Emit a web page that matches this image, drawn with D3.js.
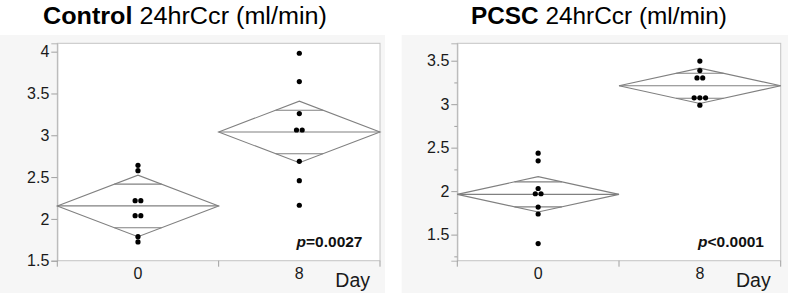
<!DOCTYPE html>
<html><head><meta charset="utf-8">
<script src="https://cdn.jsdelivr.net/npm/d3@7"></script>
<style>
html,body{margin:0;padding:0;background:#fff;}
svg{display:block;font-family:"Liberation Sans",Arial,Helvetica,sans-serif;}
</style></head>
<body>
<svg id="chart" width="788" height="304"></svg>
<script>
// ---------- data ----------
const categories = ["0", "8"];
const controlDay0 = [2.641, 2.577, 2.218, 2.218, 2.038, 2.038, 1.787, 1.724];
const controlDay8 = [3.981, 3.642, 3.259, 3.063, 3.063, 2.689, 2.457, 2.163];
const pcscDay0 = [2.436, 2.348, 2.030, 1.970, 1.970, 1.817, 1.737, 1.397];
const pcscDay8 = [3.496, 3.386, 3.302, 3.302, 3.073, 3.073, 3.073, 2.989];
const controlTicks = [1.5, 2, 2.5, 3, 3.5, 4];
const pcscTicks = [1.5, 2, 2.5, 3, 3.5];
const pcscMinorTicks = [1.25, 1.75, 2.25, 2.75, 3.25];
const titleBold = ["Control", "PCSC"];
const titleRest = " 24hrCcr (ml/min)";
const pValueLabels = ["=0.0027", "<0.0001"];
const xTitle = "Day";
const tCrit = 2.145; // t quantile 0.975, df = 14

const svg = d3.select("#chart");

const panels = [
  {bold: titleBold[0], groups: [controlDay0, controlDay8], ticks: controlTicks, minor: [],
   domain: [1.5, 4.1], p: pValueLabels[0],
   bg: [0, 35, 385, 293], plot: [57.3, 380, 43.3, 260.7],
   titleX: 43, titleW: 284, pRight: 362.5},
  {bold: titleBold[1], groups: [pcscDay0, pcscDay8], ticks: pcscTicks, minor: pcscMinorTicks,
   domain: [1.2, 3.7], p: pValueLabels[1],
   bg: [401.7, 35, 788, 293], plot: [457.3, 780.7, 43.3, 260.7],
   titleX: 471, titleW: 256, pRight: 764}
];

panels.forEach(P => {
  const [l, r, t, b] = P.plot;
  const g = svg.append("g");
  g.append("rect").attr("x", P.bg[0]).attr("y", P.bg[1])
    .attr("width", P.bg[2] - P.bg[0]).attr("height", P.bg[3] - P.bg[1])
    .attr("fill", "#f6f6f6");
  g.append("rect").attr("x", l).attr("y", t).attr("width", r - l).attr("height", b - t)
    .attr("fill", "#fff").attr("stroke", "#c4c4c4").attr("stroke-width", 1);

  const y = d3.scaleLinear().domain(P.domain).range([b, t]);
  const x = d3.scaleBand().domain(categories).range([l, r]).padding(0);

  const yAxis = d3.axisLeft(y).tickValues(P.ticks).tickSize(6).tickPadding(2)
    .tickFormat(d3.format("~g"));
  const ya = g.append("g").attr("transform", `translate(${l},0)`).call(yAxis)
    .attr("font-size", 16).attr("font-family", "'Liberation Sans',Arial,sans-serif");
  ya.select(".domain").attr("stroke", "#b4b4b4");
  ya.selectAll(".tick line").attr("stroke", "#a0a0a0");
  ya.selectAll(".tick text").attr("font-size", 16).attr("fill", "#1a1a1a");
  if (P.minor.length) {
    const ym = d3.axisLeft(y).tickValues(P.minor).tickSize(3).tickFormat("");
    const yma = g.append("g").attr("transform", `translate(${l},0)`).call(ym);
    yma.select(".domain").remove();
    yma.selectAll(".tick line").attr("stroke", "#a0a0a0");
  }

  const bounds = [l].concat(categories.map(c => x(c) + x.bandwidth()));
  g.selectAll(".sep").data(bounds).join("line")
    .attr("x1", d => d).attr("x2", d => d).attr("y1", b).attr("y2", b + 6)
    .attr("stroke", "#a0a0a0");
  g.selectAll(".xl").data(categories).join("text")
    .attr("x", d => x(d) + x.bandwidth() / 2).attr("y", b + 18.5)
    .attr("text-anchor", "middle").attr("font-size", 16).attr("fill", "#1a1a1a")
    .text(d => d);
  g.append("text").attr("x", r - 10).attr("y", 286.5).attr("text-anchor", "end")
    .attr("font-size", 19.5).attr("fill", "#1a1a1a").text(xTitle);

  const means = P.groups.map(v => d3.mean(v));
  let ss = 0, n = 0;
  P.groups.forEach((v, i) => { v.forEach(d => { ss += (d - means[i]) ** 2; }); n += v.length; });
  const sd = Math.sqrt(ss / (n - P.groups.length));

  P.groups.forEach((vals, i) => {
    const cat = categories[i];
    const x0 = x(cat), x1 = x0 + x.bandwidth(), xc = (x0 + x1) / 2;
    const m = means[i];
    const ci = tCrit * sd / Math.sqrt(vals.length);
    const dg = g.append("g");
    const pts = [[x0, y(m)], [xc, y(m + ci)], [x1, y(m)], [xc, y(m - ci)]];
    dg.append("path").attr("d", d3.line()(pts) + "Z")
      .attr("fill", "none").attr("stroke", "#808080").attr("stroke-width", 1.1);
    dg.append("line").attr("x1", x0).attr("x2", x1).attr("y1", y(m)).attr("y2", y(m))
      .attr("stroke", "#808080").attr("stroke-width", 1.1);
    const ov = ci / Math.SQRT2;
    const hw = (x.bandwidth() / 2) * (1 - 1 / Math.SQRT2);
    [m + ov, m - ov].forEach(v => {
      dg.append("line").attr("x1", xc - hw).attr("x2", xc + hw)
        .attr("y1", y(v)).attr("y2", y(v)).attr("stroke", "#808080").attr("stroke-width", 1.1);
    });
    const counts = d3.rollup(vals, v => v.length, d => d);
    const seen = new Map();
    const pdata = vals.map(v => {
      const k = seen.get(v) || 0; seen.set(v, k + 1);
      const c = counts.get(v);
      return {v, off: (k - (c - 1) / 2) * 5.7};
    });
    dg.selectAll("circle").data(pdata).join("circle")
      .attr("cx", d => xc + d.off).attr("cy", d => y(d.v)).attr("r", 2.6).attr("fill", "#000");
  });

  const pt = g.append("text").attr("x", P.pRight).attr("y", 247.3).attr("text-anchor", "end")
    .attr("font-size", 15.5).attr("font-weight", "bold").attr("fill", "#111");
  pt.append("tspan").attr("font-style", "italic").text("p");
  pt.append("tspan").text(P.p);

  const tt = svg.append("text").attr("x", P.titleX).attr("y", 24)
    .attr("font-size", 23).attr("fill", "#000");
  tt.append("tspan").attr("font-weight", "bold").text(P.bold);
  tt.append("tspan").text(titleRest);
  const w = tt.node().getComputedTextLength();
  const sx = P.titleW / w;
  tt.attr("transform", `translate(${P.titleX},0) scale(${sx},1) translate(${-P.titleX},0)`);
});
</script>
</body></html>
